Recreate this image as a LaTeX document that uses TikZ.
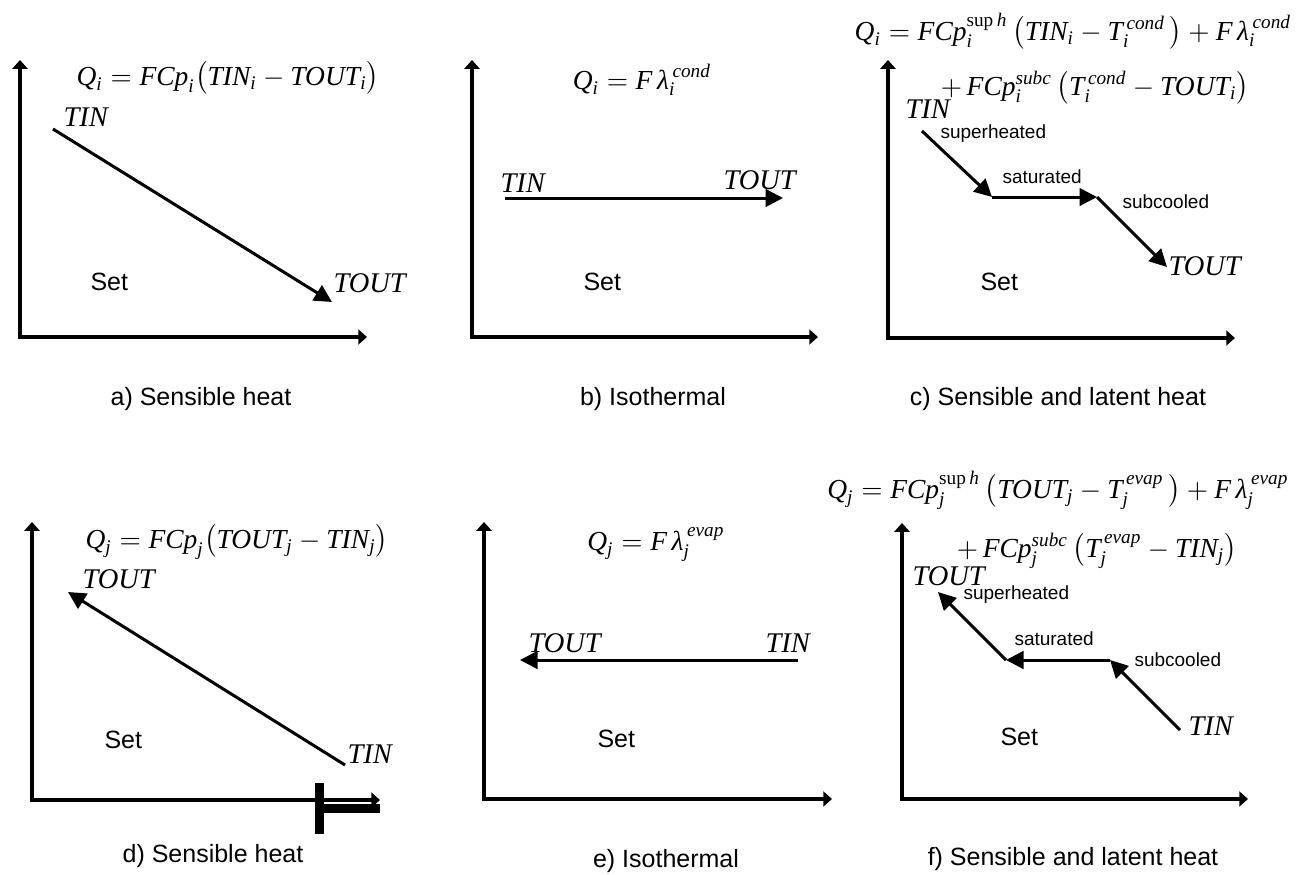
\documentclass[tikz,border=0pt]{standalone}
\usepackage{fontspec}
\usepackage{amsmath}
\setmainfont{Liberation Sans}
\newfontfamily\timesfam{Liberation Serif}
\newcommand{\tvar}[1]{\text{\timesfam\itshape #1}}
\newcommand{\tup}[1]{\text{\timesfam #1}}
\usetikzlibrary{arrows.meta, positioning}

\begin{document}
\begin{tikzpicture}[x=0.4pt, y=-0.4pt,
    axis/.style={line width=1.3pt, line join=miter, {Triangle[length=3.5pt, width=6pt]}-{Triangle[length=3.5pt, width=6pt]}},
    flow/.style={line width=1.2pt, -{Triangle[length=7pt, width=7pt]}},
    temp/.style={anchor=base west, inner sep=0pt, font=\timesfam\itshape\fontsize{11.4}{13}\selectfont},
    eqn/.style={anchor=base, inner sep=0pt, font=\fontsize{11}{13}\selectfont},
    region/.style={anchor=base west, inner sep=0pt, font=\fontsize{10}{12}\selectfont},
    phase/.style={anchor=base west, inner sep=0pt, font=\fontsize{7.6}{9}\selectfont},
    captext/.style={anchor=base, inner sep=0pt, font=\fontsize{10}{12}\selectfont}]
  \useasboundingbox (0,0) rectangle (1296,875);

  % odd bar on the axis of panel d
  \fill (315,783) rectangle (324,834);
  \fill (322,804) rectangle (380,813);

  \foreach \cx/\cy/\ty/\rx in {20/337/60/367, 472/337/60/818, 888/338/60/1235,
                              32/800/522/380, 484/799/522/832, 902/799/523/1248}
    \draw[axis] (\cx,\ty) -- (\cx,\cy) -- (\rx,\cy);

  % a) sensible heat, hot side
  \node[eqn] (eqA) at (228,85) {$\tvar{Q}_{\tvar{i}} = \tvar{FCp}_{\tvar{i}}\bigl(\tvar{TIN}_{\tvar{i}} - \tvar{TOUT}_{\tvar{i}}\bigr)$};
  \node[temp] (tinA) at (63,126) {TIN};
  \node[temp] (toutA) at (333,292) {TOUT};
  \node[region] (setA) at (90,290) {Set};
  \coordinate (a1) at (53,129);
  \coordinate (a2) at (332,302);
  \draw[flow] (a1) -- (a2);
  \node[captext] (capA) at (201,405) {a) Sensible heat};

  % b) isothermal, hot side
  \node[eqn] (eqB) at (642,89) {$\tvar{Q}_{\tvar{i}} = \tvar{F}\,\tvar{λ}_{\tvar{i}}^{\,\tvar{cond}}$};
  \node[temp] (tinB) at (500,192) {TIN};
  \node[temp] (toutB) at (723,189) {TOUT};
  \node[region] (setB) at (583,290) {Set};
  \coordinate (b1) at (505,198);
  \coordinate (b2) at (783,198);
  \draw[flow] (b1) -- (b2);
  \node[captext] (capB) at (653,405) {b) Isothermal};

  % c) sensible and latent heat, hot side
  \node[eqn] (eqC1) at (1073,40) {$\tvar{Q}_{\tvar{i}} = \tvar{FCp}_{\tvar{i}}^{\tup{sup}\,\tvar{h}}\,\bigl(\tvar{TIN}_{\tvar{i}} - \tvar{T}_{\tvar{i}}^{\,\tvar{cond}}\,\bigr) + \tvar{F}\,\tvar{λ}_{\tvar{i}}^{\,\tvar{cond}}$};
  \node[eqn] (eqC2) at (1095,95) {$+\,\tvar{FCp}_{\tvar{i}}^{\tvar{subc}}\,\bigl(\tvar{T}_{\tvar{i}}^{\,\tvar{cond}} - \tvar{TOUT}_{\tvar{i}}\bigr)$};
  \node[temp] (tinC) at (905,118) {TIN};
  \node[temp] (toutC) at (1168,275) {TOUT};
  \node[region] (setC) at (980,290) {Set};
  \node[phase] (supC) at (940,138) {superheated};
  \node[phase] (satC) at (1002,183) {saturated};
  \node[phase] (subC) at (1122,208) {subcooled};
  \coordinate (c1) at (922,131);
  \coordinate (c2) at (992,197);
  \coordinate (c3) at (1097,197);
  \coordinate (c4) at (1167,267);
  \draw[flow] (c1) -- (c2);
  \draw[flow] (c2) -- (c3);
  \draw[flow] (c3) -- (c4);
  \node[captext] (capC) at (1058,405) {c) Sensible and latent heat};

  % d) sensible heat, cold side
  \node[eqn] (eqD) at (237,548) {$\tvar{Q}_{\tvar{j}} = \tvar{FCp}_{\tvar{j}}\bigl(\tvar{TOUT}_{\tvar{j}} - \tvar{TIN}_{\tvar{j}}\bigr)$};
  \node[temp] (toutD) at (82,588) {TOUT};
  \node[temp] (tinD) at (347,763) {TIN};
  \node[region] (setD) at (104,748) {Set};
  \coordinate (d1) at (345,765);
  \coordinate (d2) at (68,592);
  \draw[flow] (d1) -- (d2);
  \node[captext] (capD) at (213,862) {d) Sensible heat};

  % e) isothermal, cold side
  \node[eqn] (eqE) at (656,550) {$\tvar{Q}_{\tvar{j}} = \tvar{F}\,\tvar{λ}_{\tvar{j}}^{\,\tvar{evap}}$};
  \node[temp] (toutE) at (528,652) {TOUT};
  \node[temp] (tinE) at (765,652) {TIN};
  \node[region] (setE) at (597,747) {Set};
  \coordinate (e1) at (798,660);
  \coordinate (e2) at (520,660);
  \draw[flow] (e1) -- (e2);
  \node[captext] (capE) at (666,867) {e) Isothermal};

  % f) sensible and latent heat, cold side
  \node[eqn] (eqF1) at (1058,498) {$\tvar{Q}_{\tvar{j}} = \tvar{FCp}_{\tvar{j}}^{\tup{sup}\,\tvar{h}}\,\bigl(\tvar{TOUT}_{\tvar{j}} - \tvar{T}_{\tvar{j}}^{\,\tvar{evap}}\,\bigr) + \tvar{F}\,\tvar{λ}_{\tvar{j}}^{\,\tvar{evap}}$};
  \node[eqn] (eqF2) at (1097,557) {$+\,\tvar{FCp}_{\tvar{j}}^{\tvar{subc}}\,\bigl(\tvar{T}_{\tvar{j}}^{\,\tvar{evap}} - \tvar{TIN}_{\tvar{j}}\bigr)$};
  \node[temp] (toutF) at (912,585) {TOUT};
  \node[temp] (tinF) at (1188,735) {TIN};
  \node[region] (setF) at (1000,745) {Set};
  \node[phase] (supF) at (963,599) {superheated};
  \node[phase] (satF) at (1014,645) {saturated};
  \node[phase] (subF) at (1134,666) {subcooled};
  \coordinate (f1) at (1180,730);
  \coordinate (f2) at (1110,660);
  \coordinate (f3) at (1006,660);
  \coordinate (f4) at (938,592);
  \draw[flow] (f1) -- (f2);
  \draw[flow] (f2) -- (f3);
  \draw[flow] (f3) -- (f4);
  \node[captext] (capF) at (1073,865) {f) Sensible and latent heat};
\end{tikzpicture}
\end{document}
